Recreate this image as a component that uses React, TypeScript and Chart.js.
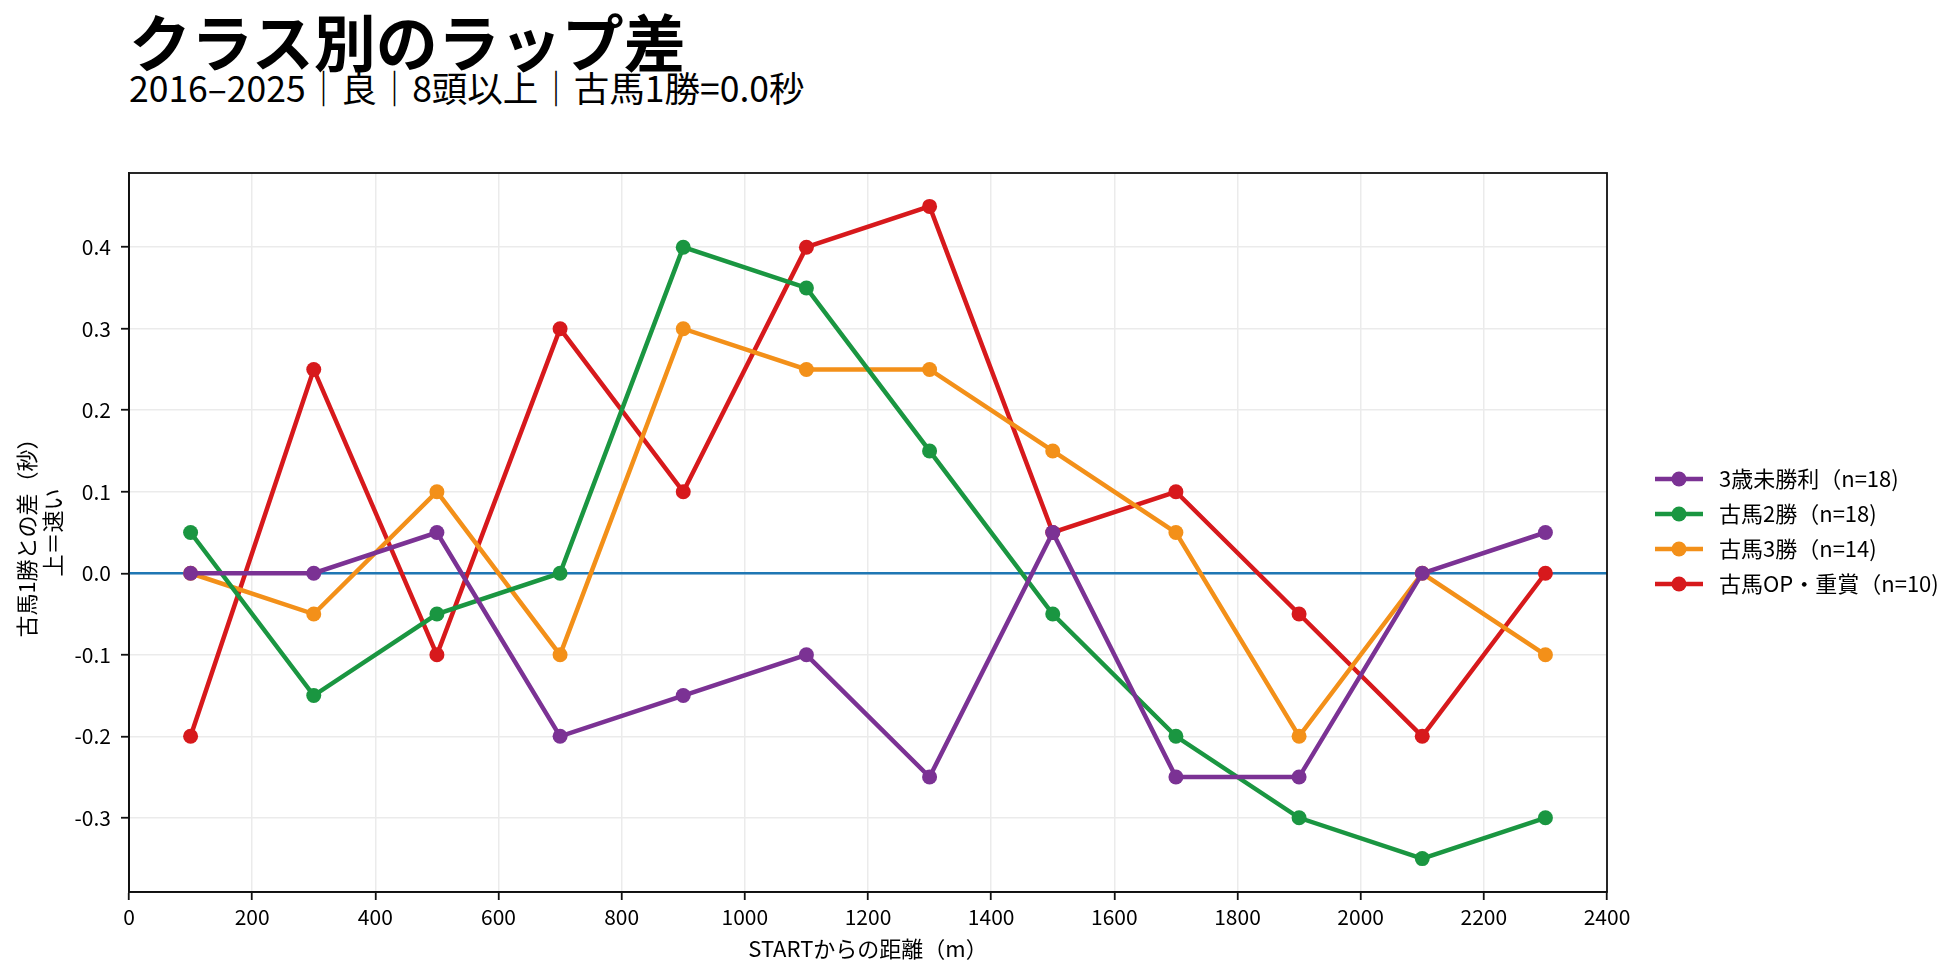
import React, { useEffect, useRef } from 'react';
import { Chart, registerables } from 'chart.js';

Chart.register(...registerables);

const FONT = '"Noto Sans CJK JP", "Noto Sans", sans-serif';

// distance from START (m)
const distances = [100, 300, 500, 700, 900, 1100, 1300, 1500, 1700, 1900, 2100, 2300];

const seriesNames = ['3歳未勝利（n=18)', '古馬2勝（n=18)', '古馬3勝（n=14)', '古馬OP・重賞（n=10)'];
const seriesColors = ['#7b3294', '#1a9641', '#f39019', '#d7191c'];

const maiden3yo = [0, 0, 0.05, -0.2, -0.15, -0.1, -0.25, 0.05, -0.25, -0.25, 0, 0.05];
const class2win = [0.05, -0.15, -0.05, 0, 0.4, 0.35, 0.15, -0.05, -0.2, -0.3, -0.35, -0.3];
const class3win = [0, -0.05, 0.1, -0.1, 0.3, 0.25, 0.25, 0.15, 0.05, -0.2, 0, -0.1];
const openGraded = [-0.2, 0.25, -0.1, 0.3, 0.1, 0.4, 0.45, 0.05, 0.1, -0.05, -0.2, 0];

const seriesValues = [maiden3yo, class2win, class3win, openGraded];

const xMax = 2400;
const yMin = -0.391;
const yMax = 0.491;

const LINE_W = 4.5;
const POINT_R = 7.5;

const framePlugin = {
  id: 'frameAndLegend',
  beforeDatasetsDraw(chart: Chart) {
    const { ctx, chartArea, scales } = chart;
    const y0 = scales.y.getPixelForValue(0);
    ctx.save();
    ctx.strokeStyle = '#1f77b4';
    ctx.lineWidth = 2.5;
    ctx.beginPath();
    ctx.moveTo(chartArea.left, y0);
    ctx.lineTo(chartArea.right, y0);
    ctx.stroke();
    ctx.restore();
  },
  afterDraw(chart: Chart) {
    const { ctx, chartArea } = chart;
    ctx.save();
    ctx.strokeStyle = '#111';
    ctx.lineWidth = 1.8;
    ctx.strokeRect(chartArea.left, chartArea.top, chartArea.right - chartArea.left, chartArea.bottom - chartArea.top);

    // legend on the right
    const cy = (chartArea.top + chartArea.bottom) / 2 - 1;
    const x0 = chartArea.right + 48;
    ctx.font = `22px ${FONT}`;
    ctx.textBaseline = 'middle';
    ctx.textAlign = 'left';
    seriesNames.forEach((name, i) => {
      const y = cy + (i - 1.5) * 35;
      ctx.strokeStyle = seriesColors[i];
      ctx.lineWidth = LINE_W;
      ctx.beginPath();
      ctx.moveTo(x0, y);
      ctx.lineTo(x0 + 48, y);
      ctx.stroke();
      ctx.fillStyle = seriesColors[i];
      ctx.beginPath();
      ctx.arc(x0 + 24, y, POINT_R, 0, Math.PI * 2);
      ctx.fill();
      ctx.fillStyle = '#000';
      ctx.fillText(name, x0 + 64, y);
    });
    ctx.restore();
  },
};

const App = () => {
  const canvasRef = useRef<HTMLCanvasElement>(null);
  const chartRef = useRef<Chart | null>(null);

  useEffect(() => {
    if (!canvasRef.current) return;
    const ctx = canvasRef.current.getContext('2d');
    if (!ctx) return;

    if (chartRef.current) {
      chartRef.current.destroy();
      chartRef.current = null;
    }

    chartRef.current = new Chart(ctx, {
      type: 'line',
      data: {
        datasets: seriesNames.map((name, i) => ({
          label: name,
          data: distances.map((d, j) => ({ x: d, y: seriesValues[i][j] })),
          borderColor: seriesColors[i],
          backgroundColor: seriesColors[i],
          borderWidth: LINE_W,
          pointRadius: POINT_R,
          pointBorderWidth: 0,
          pointHoverRadius: POINT_R,
          tension: 0,
          fill: false,
        })),
      },
      plugins: [framePlugin],
      options: {
        responsive: false,
        animation: false,
        devicePixelRatio: 1,
        layout: { padding: { top: 173, right: 353, bottom: 0, left: 0 } },
        plugins: {
          legend: { display: false },
          tooltip: { enabled: false },
          title: { display: false },
        },
        scales: {
          x: {
            type: 'linear',
            min: 0,
            max: xMax,
            afterFit: (scale: any) => { scale.height = 86; },
            ticks: {
              stepSize: 200,
              color: '#000',
              padding: 4,
              font: { family: FONT, size: 21 },
              callback: (v: any) => String(v),
            },
            grid: { color: '#ebebeb', lineWidth: 1.5, tickColor: '#111', tickLength: 8, tickWidth: 1.8 },
            border: { color: '#111', width: 1.8 },
            title: {
              display: true,
              text: 'STARTからの距離（m）',
              color: '#000',
              font: { family: FONT, size: 22 },
              padding: { top: 0, bottom: 16 },
            },
          },
          y: {
            type: 'linear',
            min: yMin,
            max: yMax,
            afterFit: (scale: any) => { scale.width = 129; },
            ticks: {
              stepSize: 0.1,
              includeBounds: false,
              color: '#000',
              padding: 10,
              font: { family: FONT, size: 21 },
              callback: (v: any) => Number(v).toFixed(1),
            },
            grid: { color: '#ebebeb', lineWidth: 1.5, tickColor: '#111', tickLength: 8, tickWidth: 1.8 },
            border: { color: '#111', width: 1.8 },
            title: {
              display: true,
              text: ['古馬1勝との差（秒）', '上＝速い'],
              color: '#000',
              font: { family: FONT, size: 22, lineHeight: 1.18 },
              padding: { top: 14, bottom: 0 },
            },
          },
        },
      },
    });

    return () => {
      if (chartRef.current) {
        chartRef.current.destroy();
        chartRef.current = null;
      }
    };
  }, []);

  return (
    <div style={{ position: 'absolute', left: 0, top: 0, width: 1960, height: 978, background: '#fff', fontFamily: FONT }}>
      <div style={{ position: 'absolute', left: 129, top: 9, fontSize: 62, fontWeight: 700, lineHeight: 1, whiteSpace: 'nowrap', color: '#000' }}>
        クラス別のラップ差
      </div>
      <div style={{ position: 'absolute', left: 129, top: 69, fontSize: 35.5, lineHeight: 1, whiteSpace: 'nowrap', color: '#000' }}>
        2016–2025｜良｜8頭以上｜古馬1勝=0.0秒
      </div>
      <canvas ref={canvasRef} width={1960} height={978} style={{ position: 'absolute', left: 0, top: 0 }} />
    </div>
  );
};

export default App;
